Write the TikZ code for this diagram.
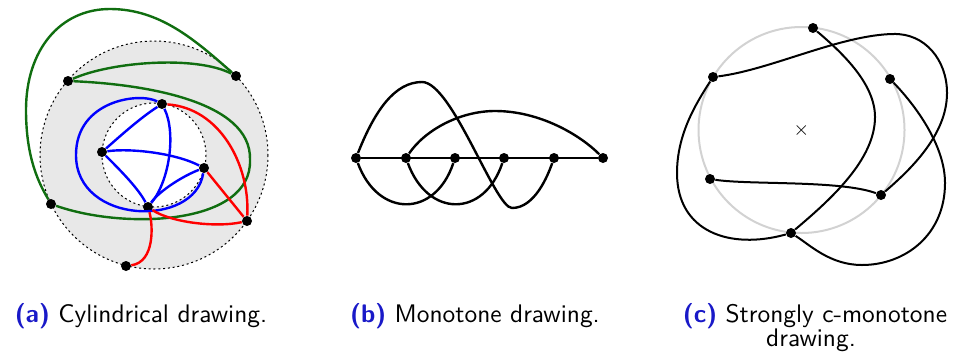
\documentclass[tikz,border=0pt]{standalone}
\usepackage{tikz}
\usepackage{amsmath,amssymb}
\definecolor{capblue}{RGB}{25,25,200}
\definecolor{dkgreen}{RGB}{16,110,16}
\tikzset{
  vertex/.style={
    shape = circle,
    fill,
    inner sep = 0pt,
    minimum size = 5pt
  },
  edge/.style={
    line width = 1.2pt
  },
  cylline/.style={
    line width = 0.5pt,
    dash pattern = on 1pt off 1.4pt
  },
  caption/.style={
    anchor = base,
    inner sep = 0pt,
    scale = 1.27,
    transform shape,
    font = \sffamily
  }
}
\newcommand{\subtag}[1]{\textbf{\color{capblue}(#1)}}

\begin{document}
\begin{tikzpicture}[x=0.5pt,y=-0.5pt]
  \useasboundingbox (0,0) rectangle (956,360);

  % (a) cylindrical
  \fill[gray!18, even odd rule] (154,155) circle (114) (154,155) circle (52);
  \draw[cylline] (154,155) circle (114);
  \draw[cylline] (154,155) circle (52);

  \node[vertex] (g1) at (68,81) {};
  \node[vertex] (g2) at (236,76) {};
  \node[vertex] (g3) at (51,204) {};
  \node[vertex] (r1) at (126,266) {};
  \node[vertex] (r2) at (247,221) {};
  \node[vertex] (b1) at (162,104) {};
  \node[vertex] (b2) at (102,152) {};
  \node[vertex] (b3) at (204,168) {};
  \node[vertex] (b4) at (148,207) {};

  \begin{scope}[edge, dkgreen]
    \draw (g1) .. controls (110,62) and (195,55) .. (g2);
    \draw (g1) .. controls (140,84) and (252,100) .. (250,160)
               .. controls (252,225) and (125,230) .. (g3);
    \draw (g2) .. controls (195,40) and (160,9) .. (110,9)
               .. controls (60,9) and (26,50) .. (26,110)
               .. controls (26,160) and (40,185) .. (g3);
  \end{scope}
  \begin{scope}[edge, blue]
    \draw (b1) .. controls (140,118) and (118,138) .. (b2);
    \draw (b2) .. controls (130,148) and (175,153) .. (b3);
    \draw (b2) .. controls (120,170) and (138,188) .. (b4);
    \draw (b1) .. controls (176,132) and (170,180) .. (b4);
    \draw (b3) .. controls (185,175) and (160,190) .. (b4);
    \draw (b1) .. controls (140,92) and (76,100) .. (76,155)
               .. controls (76,225) and (195,228) .. (b3);
  \end{scope}
  \begin{scope}[edge, red]
    \draw (b1) .. controls (220,108) and (250,165) .. (r2);
    \draw (b3) -- (r2);
    \draw (b4) .. controls (170,222) and (215,228) .. (r2);
    \draw (b4) .. controls (153,225) and (155,262) .. (r1);
  \end{scope}

  % (b) monotone
  \foreach \i/\x in {1/356,2/406,3/455,4/504,5/554,6/603}{
    \node[vertex] (m\i) at (\x,158) {};
  }
  \begin{scope}[edge]
    \draw (m1) -- (m6);
    \draw (m1) .. controls (375,110) and (395,82) .. (422,82)
               .. controls (452,82) and (495,208) .. (512,208)
               .. controls (535,208) and (548,175) .. (m5);
    \draw (m2) .. controls (425,130) and (460,111) .. (495,111)
               .. controls (540,111) and (580,135) .. (m6);
    \draw (m1) .. controls (378,218) and (435,218) .. (m3);
    \draw (m2) .. controls (428,218) and (484,218) .. (m4);
  \end{scope}

  % (c) strongly c-monotone
  \draw[gray!35, line width=1pt] (801.5,130) circle (103);
  \node[inner sep=0pt] (ctr) at (801.5,130.5) {$\times$};

  \node[vertex] (c1) at (813,28) {};
  \node[vertex] (c2) at (713,77) {};
  \node[vertex] (c3) at (890,79) {};
  \node[vertex] (c4) at (710,179) {};
  \node[vertex] (c5) at (881,195) {};
  \node[vertex] (c6) at (791,233) {};

  \begin{scope}[line width=1pt]
    \draw (c1) .. controls (845,55) and (875,85) .. (875,117)
               .. controls (875,160) and (830,200) .. (c6);
    \draw (c2) .. controls (770,70) and (840,35) .. (893,34)
               .. controls (925,33) and (947,60) .. (947,93)
               .. controls (947,135) and (910,170) .. (c5);
    \draw (c2) .. controls (695,105) and (677,135) .. (677,173)
               .. controls (677,232) and (730,250) .. (c6);
    \draw (c3) .. controls (915,105) and (945,145) .. (945,183)
               .. controls (945,235) and (905,265) .. (862,265)
               .. controls (830,265) and (810,245) .. (c6);
    \draw (c4) .. controls (750,185) and (840,180) .. (c5);
  \end{scope}

  % captions
  \node[caption] (capa) at (141,322) {\subtag{a} Cylindrical drawing.};
  \node[caption] (capb) at (475,322) {\subtag{b} Monotone drawing.};
  \node[caption] (capc) at (815,322) {\subtag{c} Strongly c-monotone};
  \node[caption] (capd) at (811,346) {drawing.};
\end{tikzpicture}
\end{document}
